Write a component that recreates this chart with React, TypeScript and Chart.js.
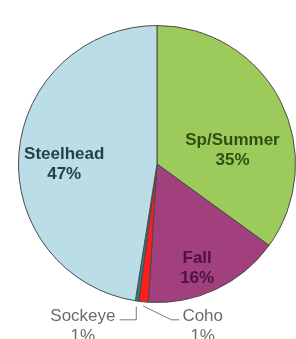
import React, { useEffect, useRef } from "react";
import { Chart, registerables } from "chart.js";
Chart.register(...registerables);

const categories = ["Sp/Summer", "Fall", "Coho", "Sockeye", "Steelhead"];
const shares = [35.0, 16.0, 1.1, 0.4, 47.5];
const percentLabels = ["35%", "16%", "1%", "1%", "47%"];
const sliceColors = ["#9dcb5b", "#a23f7d", "#ff1c1c", "#2f7f78", "#badde8"];
const labelColors = ["#2e4f12", "#4b1242", "#6b6b6b", "#6b6b6b", "#263f4c"];

// label placement relative to pie centre, in fractions of the radius
const placements = [
  { dx: 0.545, dy: -0.1, inside: true },
  { dx: 0.29, dy: 0.75, inside: true },
  { dx: 0.33, dy: 1.17, inside: false, side: "right" },
  { dx: -0.535, dy: 1.17, inside: false, side: "left" },
  { dx: -0.67, dy: 0.0, inside: true },
];

const FONT_FAMILY = "'Liberation Sans', Arial, sans-serif";

const labelPlugin = {
  id: "sliceLabels",
  afterDraw(chart: any) {
    const ctx = chart.ctx;
    const meta = chart.getDatasetMeta(0);
    ctx.save();
    meta.data.forEach((arc: any, i: number) => {
      const p = arc.getProps(["x", "y", "outerRadius", "startAngle", "endAngle"], true);
      const r = p.outerRadius;
      const mid = (p.startAngle + p.endAngle) / 2;
      const pl = placements[i];
      const lx = p.x + pl.dx * r;
      const ly = p.y + pl.dy * r;
      ctx.font = (pl.inside ? "bold " : "") + "17px " + FONT_FAMILY;
      ctx.fillStyle = labelColors[i];
      ctx.textAlign = "center";
      ctx.textBaseline = "middle";
      ctx.fillText(categories[i], lx, ly - 10);
      ctx.fillText(percentLabels[i], lx, ly + 10);
      if (!pl.inside) {
        const w = ctx.measureText(categories[i]).width;
        const lineY = p.y + 1.125 * r;
        ctx.strokeStyle = "#7a7a7a";
        ctx.lineWidth = 1;
        ctx.beginPath();
        if (pl.side === "left") {
          const sx = p.x + Math.cos(mid) * r * 1.04;
          const sy = p.y + Math.sin(mid) * r * 1.04;
          ctx.moveTo(sx, sy);
          ctx.lineTo(sx, lineY);
          ctx.lineTo(lx + w / 2 + 4, lineY);
        } else {
          const sx = p.x + Math.cos(mid) * r * 1.03;
          const sy = p.y + Math.sin(mid) * r * 1.03;
          const left = lx - w / 2;
          ctx.moveTo(sx, sy);
          ctx.lineTo(left - 11, lineY);
          ctx.lineTo(left - 3, lineY);
        }
        ctx.stroke();
      }
    });
    ctx.restore();
  },
};

export default function App() {
  const ref = useRef<HTMLCanvasElement | null>(null);
  useEffect(() => {
    if (!ref.current) return;
    const chart = new Chart(ref.current, {
      type: "pie",
      data: {
        labels: categories,
        datasets: [
          {
            data: shares,
            backgroundColor: sliceColors,
            borderColor: "#4a4a4a",
            borderWidth: 1,
          },
        ],
      },
      options: {
        responsive: false,
        animation: false,
        layout: { padding: { left: 18, top: 25, right: 0, bottom: 36 } },
        plugins: {
          legend: { display: false },
          tooltip: { enabled: false },
        },
      },
      plugins: [labelPlugin],
    });
    return () => chart.destroy();
  }, []);
  return (
    <div style={{ position: "absolute", left: 0, top: 0, width: 296, height: 339, background: "#fff" }}>
      <canvas ref={ref} width={296} height={339} />
    </div>
  );
}
